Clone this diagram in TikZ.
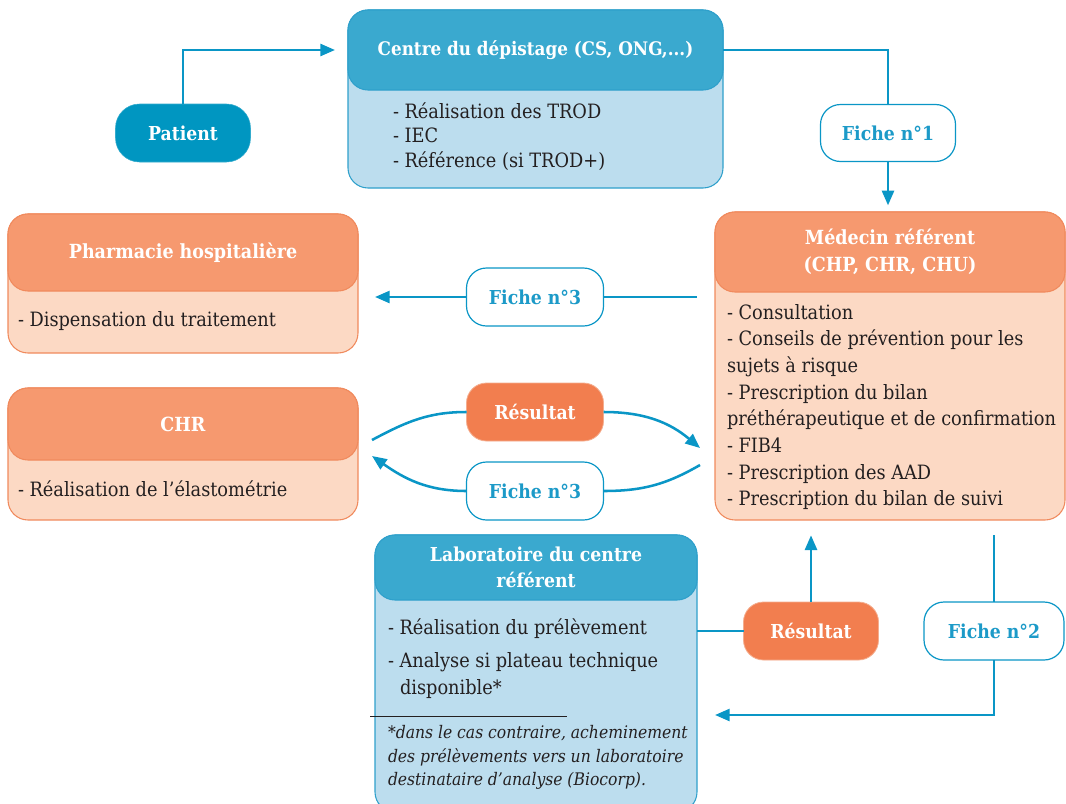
\documentclass[tikz,border=0pt]{standalone}
\usepackage{fontspec}
\setmainfont{DejaVu Serif Condensed}
\usetikzlibrary{arrows.meta}
\definecolor{linecol}{HTML}{0A96C6}
\definecolor{patfill}{HTML}{0096C1}
\definecolor{bluehdr}{HTML}{3AA9CF}
\definecolor{bluebody}{HTML}{BCDDEE}
\definecolor{blueborder}{HTML}{2FA0CB}
\definecolor{orghdr}{HTML}{F6996F}
\definecolor{orgbody}{HTML}{FCD9C4}
\definecolor{orgborder}{HTML}{F08A5D}
\definecolor{resfill}{HTML}{F27E4F}
\definecolor{fichetext}{HTML}{1C9AC8}
\definecolor{textcol}{HTML}{231F20}
\begin{document}
\begin{tikzpicture}[x=0.75pt,y=-0.75pt,
  every node/.style={inner sep=0pt, outer sep=0pt},
  bbody/.style={draw=blueborder, line width=0.8pt, fill=bluebody, rounded corners=15pt},
  bhdr/.style={draw=blueborder, line width=0.8pt, fill=bluehdr, rounded corners=15pt, text=white, font=\bfseries\fontsize{14}{18.4}\selectfont, align=center},
  obody/.style={draw=orgborder, line width=0.8pt, fill=orgbody, rounded corners=15pt},
  ohdr/.style={draw=orgborder, line width=0.8pt, fill=orghdr, rounded corners=15pt, text=white, font=\bfseries\fontsize{14.6}{20.5}\selectfont, align=center},
  fiche/.style={draw=linecol, line width=0.9pt, fill=white, rounded corners=15pt, text=fichetext, font=\bfseries\fontsize{14.4}{18}\selectfont, minimum width=102.75pt, minimum height=43.5pt},
  resnode/.style={draw=orgborder!70, line width=0.6pt, fill=resfill, rounded corners=15pt, text=white, font=\bfseries\fontsize{14.4}{18}\selectfont, minimum width=102.75pt, minimum height=43.5pt},
  items/.style={anchor=west, align=left, text=textcol, font=\fontsize{14.8}{18.4}\selectfont},
  conn/.style={draw=linecol, line width=1.9pt},
  arr/.style={conn, -{Triangle[length=11pt,width=9pt]}}
]
\useasboundingbox (0,0) rectangle (1066,803);

% Patient
\node[fill=patfill, draw=patfill!80!white, rounded corners=18pt, minimum width=101.25pt, minimum height=43.5pt, text=white, font=\bfseries\fontsize{14.4}{18}\selectfont] (pat) at (183,133) {Patient};

% Centre du depistage
\node[bbody, minimum width=281.25pt, minimum height=133.5pt] (cs) at (535.5,99) {};
\node[bhdr, minimum width=281.25pt, minimum height=60pt] (csh) at (535.5,50) {Centre du dépistage (CS, ONG,...)};
\node[items] (cst) at (393,136.5) {- Réalisation des TROD\\- IEC\\- Référence (si TROD+)};

% Fiche 1
\node[fiche, minimum width=101.25pt, minimum height=42.75pt] (f1) at (888,133) {Fiche n°1};

% Medecin referent
\node[obody, minimum width=262.5pt, minimum height=231pt] (med) at (890,366) {};
\node[ohdr, minimum width=262.5pt, minimum height=60pt] (medh) at (890,252) {Médecin référent\\(CHP, CHR, CHU)};
\node[items, font=\fontsize{14.8}{20}\selectfont] (medt) at (727,407) {- Consultation\\- Conseils de prévention pour les\\sujets à risque\\- Prescription du bilan\\préthérapeutique et de confirmation\\- FIB4\\- Prescription des AAD\\- Prescription du bilan de suivi};

% Pharmacie
\node[obody, minimum width=262.5pt, minimum height=104.25pt] (ph) at (183,283.5) {};
\node[ohdr, minimum width=262.5pt, minimum height=57.75pt] (phh) at (183,252.5) {Pharmacie hospitalière};
\node[items] (pht) at (18,321) {- Dispensation du traitement};

% CHR
\node[obody, minimum width=262.5pt, minimum height=99pt] (chr) at (183,454) {};
\node[ohdr, minimum width=262.5pt, minimum height=54pt] (chrh) at (183,424) {CHR};
\node[items] (chrt) at (18,489) {- Réalisation de l’élastométrie};

% Middle labels
\node[fiche] (f3a) at (535,297) {Fiche n°3};
\node[resnode] (r1) at (535,412) {Résultat};
\node[fiche] (f3b) at (535,491) {Fiche n°3};

% Laboratoire
\node[bbody, minimum width=241.5pt, minimum height=207.75pt] (lab) at (536,673.5) {};
\node[bhdr, minimum width=241.5pt, minimum height=48.75pt, font=\bfseries\fontsize{14.4}{19.5}\selectfont] (labh) at (536,567.5) {Laboratoire du centre\\référent};
\node[items, anchor=base west] (labt1) at (388,634) {- Réalisation du prélèvement};
\node[items, anchor=base west] (labt2) at (388,667) {- Analyse si plateau technique};
\node[items, anchor=base west] (labt3) at (400,694) {disponible*};
\coordinate (ruleA) at (370,716);
\coordinate (ruleB) at (567,716);
\draw[line width=0.6pt, textcol] (ruleA) -- (ruleB);
\node[items, anchor=base west, font=\itshape\fontsize{13}{17.6}\selectfont] (labn1) at (388,738) {\upshape*\itshape dans le cas contraire, acheminement};
\node[items, anchor=base west, font=\itshape\fontsize{13}{17.6}\selectfont] (labn2) at (388,762) {des prélèvements vers un laboratoire};
\node[items, anchor=base west, font=\itshape\fontsize{13}{17.6}\selectfont] (labn3) at (388,785) {destinataire d’analyse (Biocorp).};

% Bottom labels
\node[resnode, minimum width=101.25pt] (r2) at (811,631) {Résultat};
\node[fiche, minimum width=105pt] (f2) at (994,631) {Fiche n°2};

% Connectors
\draw[arr, shorten >=9.75pt] (pat.north) |- (csh.west);
\draw[conn] (csh.east) -| (f1.north);
\draw[arr, shorten >=5pt] (f1.south) -- (f1.south |- med.north);

\draw[conn, shorten <=13.5pt] (f3a -| med.west) -- (f3a.east);
\draw[arr, shorten >=12.75pt] (f3a.west) -- (f3a -| ph.east);

\coordinate (cl1) at (372,440);
\coordinate (cr1) at (700,448);
\coordinate (cr2) at (700,465);
\coordinate (cl2) at (372,456);
\draw[conn] (cl1) to[out=28,in=180] (r1.west);
\draw[arr] (r1.east) to[out=0,in=140] (cr1);
\draw[conn] (cr2) to[out=-150,in=0] (f3b.east);
\draw[arr] (f3b.west) to[out=180,in=-35] (cl2);

\draw[conn] (r2 -| lab.east) -- (r2.west);
\draw[arr, shorten >=11.5pt] (r2.north) -- (r2.north |- med.south);
\draw[conn, shorten <=11.5pt] (f2.north |- med.south) -- (f2.north);
\coordinate (labin) at (715,715);
\draw[arr] (f2.south) |- (labin);
\end{tikzpicture}
\end{document}
